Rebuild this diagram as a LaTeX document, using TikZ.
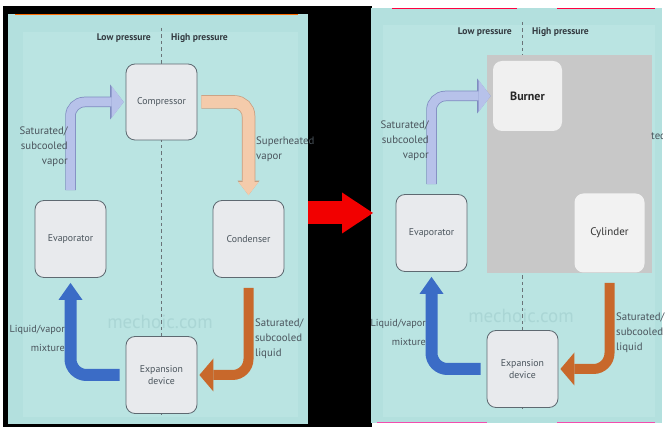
\documentclass[tikz,border=0pt]{standalone}
\usepackage{fontspec}
\setmainfont{PT Sans}
\usetikzlibrary{arrows.meta}

\definecolor{panelbg}{HTML}{B3E0DE}
\definecolor{panelin}{HTML}{BAE4E2}
\definecolor{boxfill}{HTML}{E8EAED}
\definecolor{boxedge}{HTML}{5E6971}
\definecolor{txt}{HTML}{4A545C}
\definecolor{lbfill}{HTML}{B7C2EA}
\definecolor{lbedge}{HTML}{7F8CC0}
\definecolor{pfill}{HTML}{F4CBAB}
\definecolor{pedge}{HTML}{C79E80}
\definecolor{orng}{HTML}{C8682B}
\definecolor{blu}{HTML}{3B6CC6}
\definecolor{greyreg}{HTML}{C8C8C8}
\definecolor{wmark}{HTML}{AAD6D5}
\definecolor{redarr}{HTML}{F20000}
\definecolor{dashc}{HTML}{6A7378}

\begin{document}
\begin{tikzpicture}[x=1pt,y=-1pt,
  panel/.style={fill=panelbg, inner sep=0pt, outer sep=0pt},
  box/.style={draw=boxedge, line width=0.8pt, fill=boxfill, rounded corners=9pt,
    minimum width=71pt, minimum height=77pt, inner sep=2pt, text=txt,
    font=\fontsize{9.8}{12}\selectfont, align=center},
  topL/.style={box, minimum height=76pt},
  botL/.style={box},
  topR/.style={box, draw=none, fill=white!94!black, minimum width=69pt, minimum height=70pt,
    text=black!85, font=\fontsize{12}{14}\selectfont\bfseries},
  botR/.style={box, draw=none, fill=white!95!black, minimum width=70pt, minimum height=79pt,
    text=black!80, font=\fontsize{11}{13}\selectfont},
  lbl/.style={text=txt, font=\fontsize{10.8}{15}\selectfont, inner sep=0pt},
  pres/.style={text=txt!70!black, font=\fontsize{9.6}{11}\selectfont\bfseries, inner sep=0pt},
  wm/.style={text=wmark, font=\fontsize{19}{20}\selectfont, inner sep=0pt},
  lbarrow/.style={preaction={draw=lbedge, line width=10.5pt,
      -{Triangle[length=13.5pt,width=35pt,line width=0pt]}},
    draw=lbfill, line width=9pt, -{Triangle[length=12pt,width=32pt,line width=0pt]},
    rounded corners=14pt},
  pharrow/.style={preaction={draw=pedge, line width=13.5pt,
      -{Triangle[length=14.5pt,width=22pt,line width=0pt]}},
    draw=pfill, line width=12pt, -{Triangle[length=13pt,width=20pt,line width=0pt]},
    rounded corners=14pt},
  orarrow/.style={draw=orng, line width=10pt,
    -{Triangle[length=14pt,width=33pt,line width=0pt]}, rounded corners=16pt},
  blarrow/.style={draw=blu, line width=12pt,
    -{Triangle[length=17pt,width=24pt,line width=0pt]}, rounded corners=16pt},
  bigarrow/.style={draw=redarr, line width=23pt,
    -{Triangle[length=31pt,width=41pt,line width=0pt]}}
]
% frame
\fill[white] (0,0) rectangle (665,427);
\fill[black] (3,6) rectangle (372,427);

% panels
\node[panel, minimum width=300pt, minimum height=410pt] (panelL) at (158,219) {};
\node[panel, minimum width=291pt, minimum height=415pt] (panelR) at (516.5,215.5) {};
\fill[panelin] (23,32) rectangle (298,417);
\fill[panelin] (383,25) rectangle (655,417);
\draw[orange!85!red, line width=1.2pt] (15,14.5) -- (298,14.5);
\draw[red!75!magenta, line width=1.2pt] (392,8.5) -- (517,8.5) (557,8.5) -- (655,8.5);
\draw[magenta!70, line width=1.2pt] (377,422.5) -- (487,422.5) (557,422.5) -- (655,422.5);

% red arrow between panels
\draw[bigarrow, shorten >=-2pt] (panelL.east |- 0,213) -- (panelR.west |- 0,213);

% backdrop of each panel
\foreach \s/\dx/\dy in {L/0/0, R/361/-6} {
  \begin{scope}[shift={(\dx,\dy)}]
    \node[wm] (mark\s) at (160,322) {mechoic.com};
    \draw[dashc, line width=0.8pt, dash pattern=on 3.5pt off 3pt] (161,28) -- (161,417);
    \node[pres, anchor=east] (low\s) at (151,38) {Low pressure};
    \node[pres, anchor=west] (high\s) at (171,38) {High pressure};
  \end{scope}
}

% grey block over the right panel
\fill[greyreg] (487,55) rectangle (652,273);

% cycle
\foreach \s/\dx/\dy/\tx/\tname/\bname in {L/0/0/0/Compressor/Condenser, R/361/-6/5/Burner/Cylinder} {
  \begin{scope}[shift={(\dx,\dy)}]
    \node[top\s] (top\s) at (161.5+\tx,102) {\tname};
    \node[box] (evap\s) at (70.5,239) {Evaporator};
    \node[bot\s] (bot\s) at (248.5,239) {\bname};
    \node[box] (exp\s) at (161.5,375) {Expansion\\device};
    \draw[lbarrow, shorten <=10pt, shorten >=2pt] (evap\s.north) |- (top\s.west);
    \draw[orarrow, shorten <=10pt, shorten >=2pt] (bot\s.south) |- (exp\s.east);
    \draw[blarrow, shorten <=6pt, shorten >=5pt] (exp\s.west) -| (evap\s.south);
    \node[lbl, align=right, anchor=east] (vap\s) at (68,147) {Saturated/\\subcooled\\vapor};
    \node[lbl, align=right, anchor=east, font=\fontsize{10.2}{19}\selectfont] (mix\s) at (65,338) {Liquid/vapor\\mixture};
    \node[lbl, align=left, anchor=west] (liq\s) at (255,339) {Saturated/\\subcooled\\liquid};
  \end{scope}
}

% left only
\draw[pharrow, shorten <=4pt, shorten >=5pt] (topL.east) -| (botL.north);
\node[lbl, align=left, anchor=west] (heatL) at (256,149) {Superheated\\vapor};

% right only
\begin{scope}
  \clip (panelR.south west) rectangle (panelR.north east);
  \node[lbl, anchor=west] (heatR) at (651,136) {ted};
\end{scope}
\end{tikzpicture}
\end{document}
